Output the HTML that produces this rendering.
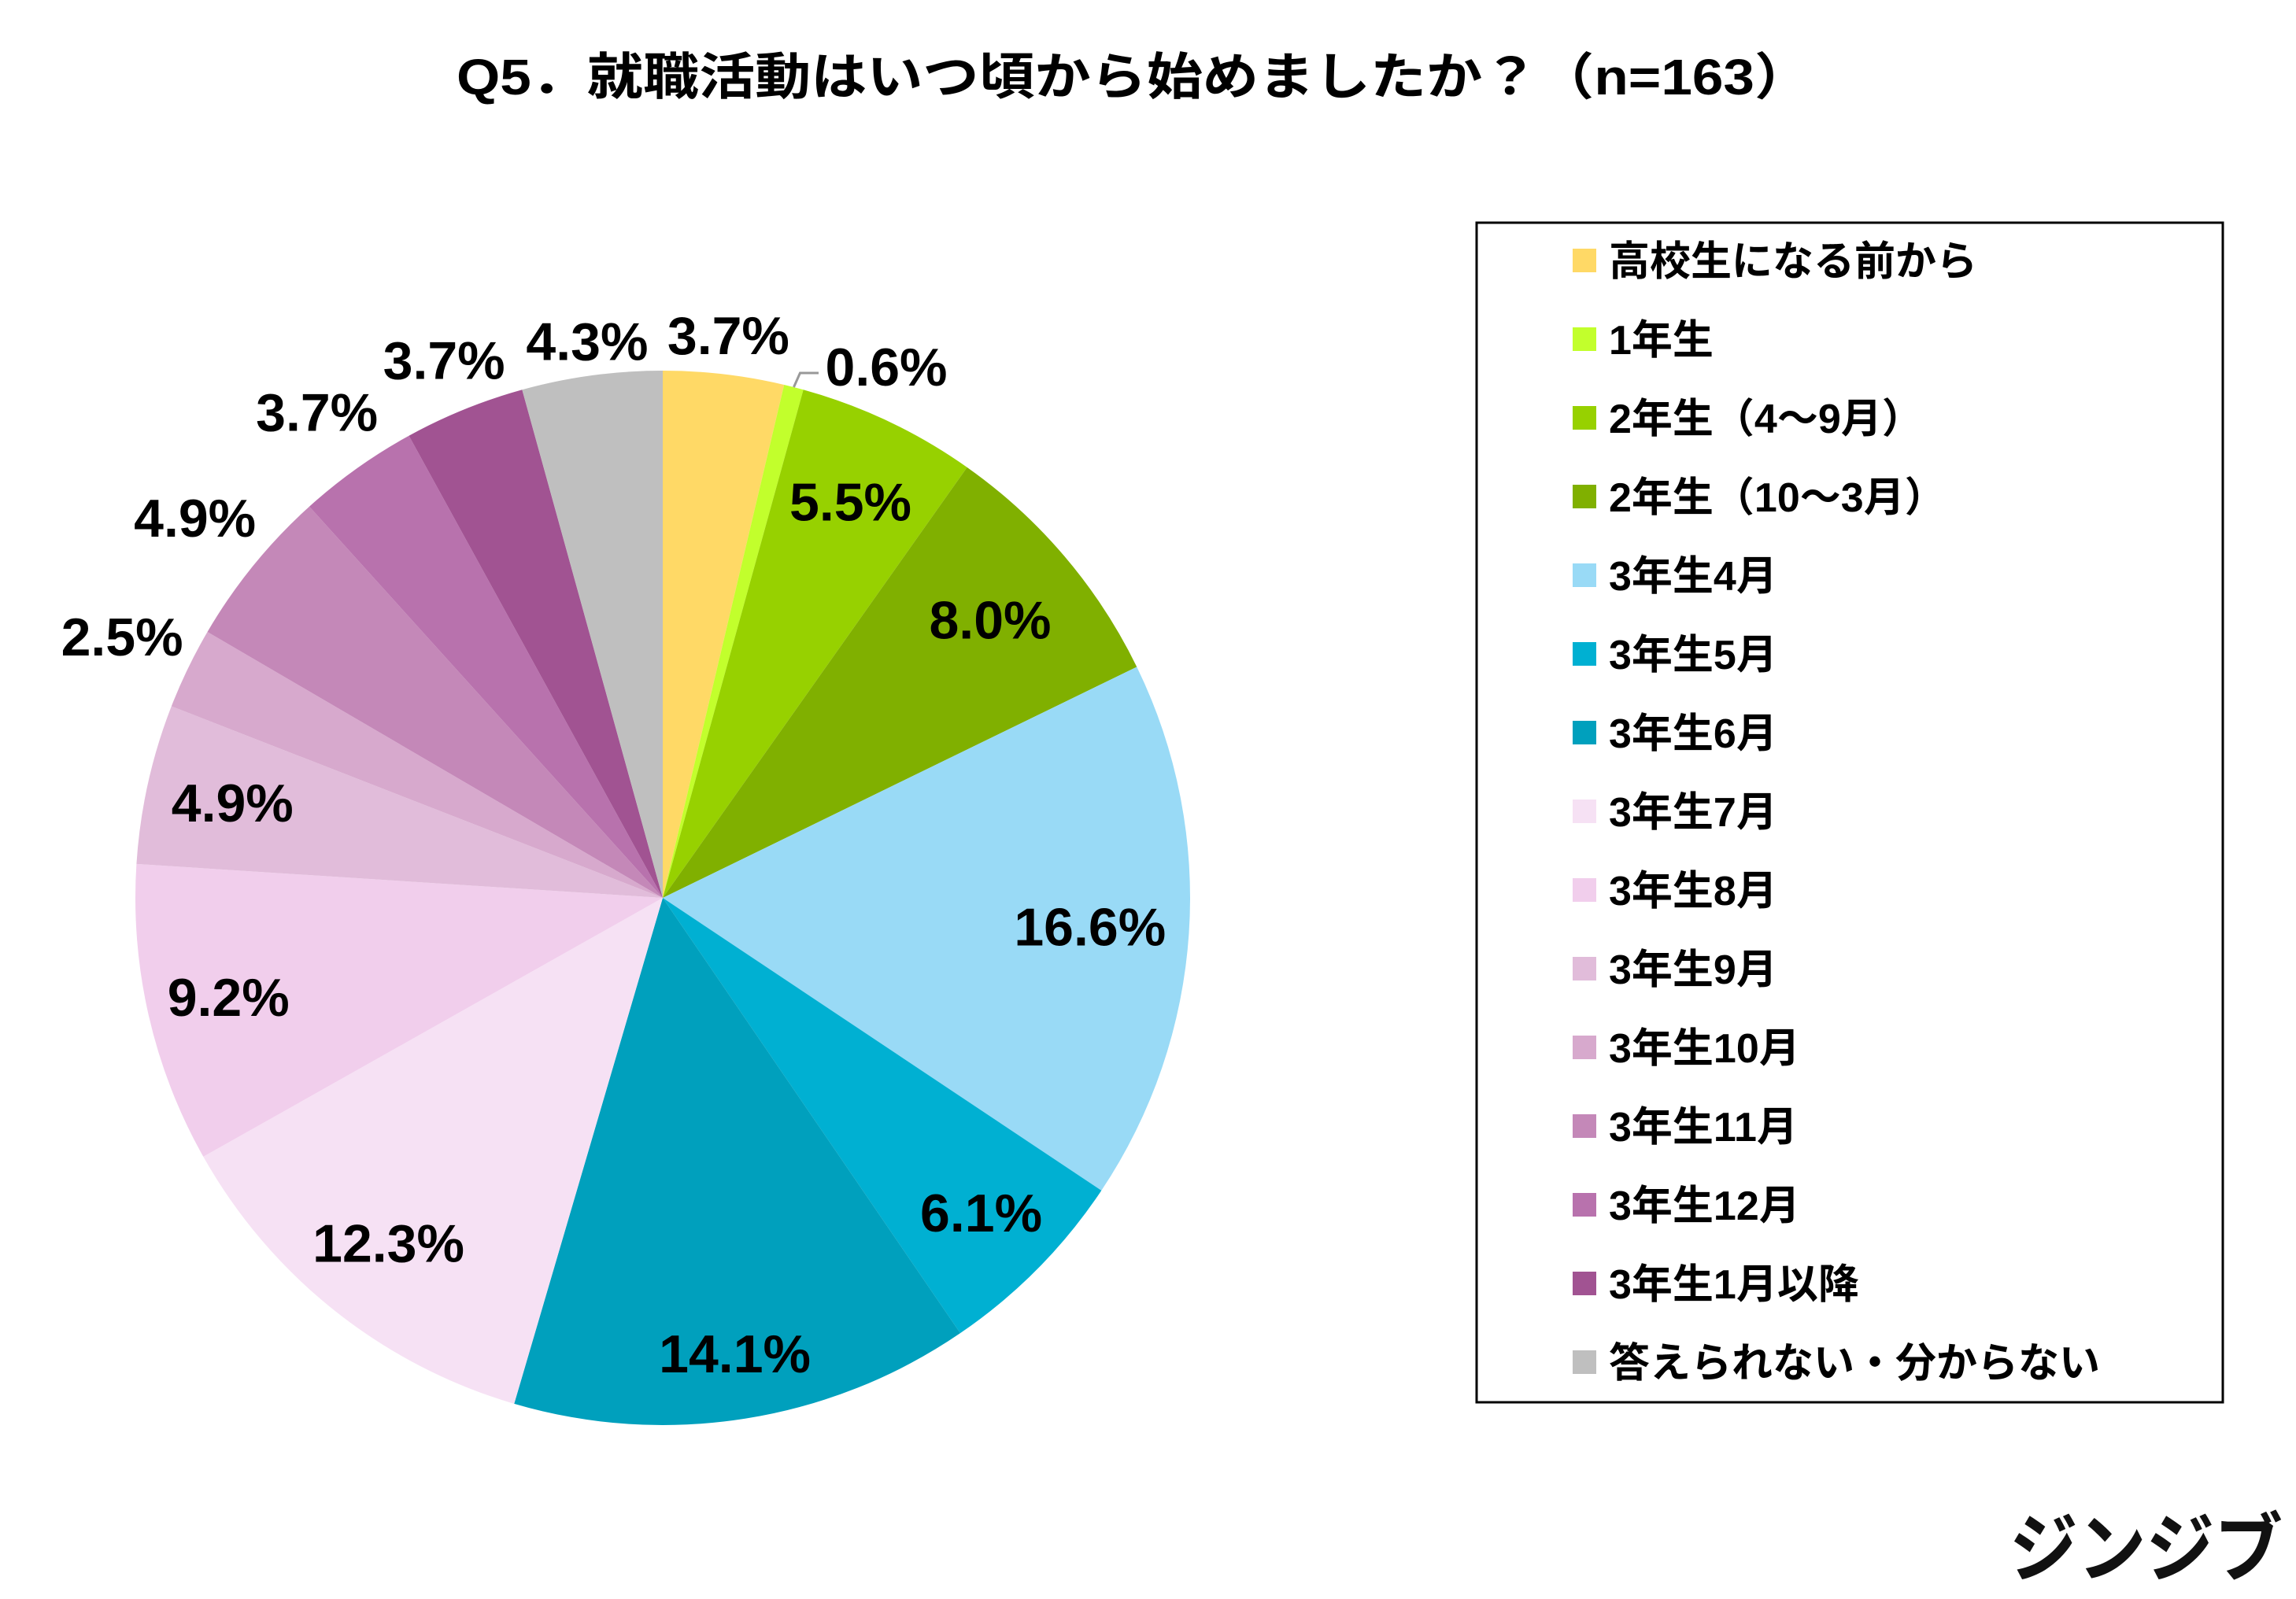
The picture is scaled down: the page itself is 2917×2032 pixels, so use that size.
<!DOCTYPE html>
<html><head><meta charset="utf-8">
<style>
html,body{margin:0;padding:0;background:#fff;}
svg{display:block;font-family:"Liberation Sans","Noto Sans CJK JP",sans-serif;font-weight:bold;}
</style></head>
<body>
<svg id="chart" width="2917" height="2032" viewBox="0 0 2917 2032" xmlns="http://www.w3.org/2000/svg">
<rect x="0" y="0" width="2917" height="2032" fill="#fff"/>
<text x="1440" y="120" text-anchor="middle" font-size="64" textLength="1720" lengthAdjust="spacingAndGlyphs" fill="#000">Q5．就職活動はいつ頃から始めましたか？（n=163）</text>
<g id="slices"></g>
<g id="labels"></g>
<rect x="1876" y="283" width="948" height="1499" fill="none" stroke="#000" stroke-width="3"/>
<g id="legend"></g>
<text x="2553" y="2002" font-size="96" textLength="347" lengthAdjust="spacingAndGlyphs" fill="#111">ジンジブ</text>
</svg>
<script>
const categories = ["高校生になる前から","1年生","2年生（4～9月）","2年生（10～3月）","3年生4月","3年生5月","3年生6月","3年生7月","3年生8月","3年生9月","3年生10月","3年生11月","3年生12月","3年生1月以降","答えられない・分からない"];
const values = [3.7,0.6,5.5,8.0,16.6,6.1,14.1,12.3,9.2,4.9,2.5,4.9,3.7,3.7,4.3];
const valueLabels = ["3.7%","0.6%","5.5%","8.0%","16.6%","6.1%","14.1%","12.3%","9.2%","4.9%","2.5%","4.9%","3.7%","3.7%","4.3%"];
const colors = ["#FFD966","#C2FF2C","#97D100","#80B000","#99DAF6","#00B0D2","#00A0BD","#F6E1F4","#F1CEEC","#E1BCDA","#D7A9CD","#C488B8","#B872AD","#A15392","#BFBFBF"];
const labelRadius = [720,760,557,546,544,569,586,560,566,560,763,766,758,738,714];

const NS = "http://www.w3.org/2000/svg";
const cx = 842, cy = 1141, R = 670;
const total = values.reduce((a,b)=>a+b,0);
function angleOf(v){ return v/total*2*Math.PI; }
function pt(a, r){ return [cx + r*Math.sin(a), cy - r*Math.cos(a)]; }

const gS = document.getElementById('slices');
const gL = document.getElementById('labels');
const gLeg = document.getElementById('legend');
let a0 = 0;
values.forEach((v,i)=>{
  const a1 = a0 + angleOf(v);
  const p0 = pt(a0,R), p1 = pt(a1,R);
  const large = (a1-a0) > Math.PI ? 1 : 0;
  const path = document.createElementNS(NS,'path');
  path.setAttribute('d',`M${cx},${cy} L${p0[0]},${p0[1]} A${R},${R} 0 ${large} 1 ${p1[0]},${p1[1]} Z`);
  path.setAttribute('fill',colors[i]);
  
  
  gS.appendChild(path);

  const mid = (a0+a1)/2;
  let p = pt(mid, labelRadius[i]);
  if (i === 1) {
    p = [1126, 466];
    const lp0 = pt(mid, R), ln = document.createElementNS(NS,'path');
    ln.setAttribute('d',`M${lp0[0]},${lp0[1]} L${lp0[0]+8},${lp0[1]-18} L1040,${lp0[1]-18}`);
    ln.setAttribute('stroke','#999'); ln.setAttribute('fill','none'); ln.setAttribute('stroke-width','3');
    
    
    gL.appendChild(ln);
  }
  const t = document.createElementNS(NS,'text');
  t.setAttribute('x',p[0]); t.setAttribute('y',p[1]+24);
  t.setAttribute('text-anchor','middle'); t.setAttribute('font-size','68');
  t.setAttribute('fill','#000');
  t.textContent = valueLabels[i];
  
  
  gL.appendChild(t);
  a0 = a1;
});

categories.forEach((c,i)=>{
  const y = 331 + i*100;
  const r = document.createElementNS(NS,'rect');
  r.setAttribute('x',1998); r.setAttribute('y',y-15); r.setAttribute('width',30); r.setAttribute('height',30);
  r.setAttribute('fill',colors[i]);
  
  
  gLeg.appendChild(r);
  const t = document.createElementNS(NS,'text');
  t.setAttribute('x',2044); t.setAttribute('y',y+19);
  t.setAttribute('font-size','52'); t.setAttribute('fill','#000');
  t.textContent = c;
  
  
  gLeg.appendChild(t);
});
</script>
</body></html>
